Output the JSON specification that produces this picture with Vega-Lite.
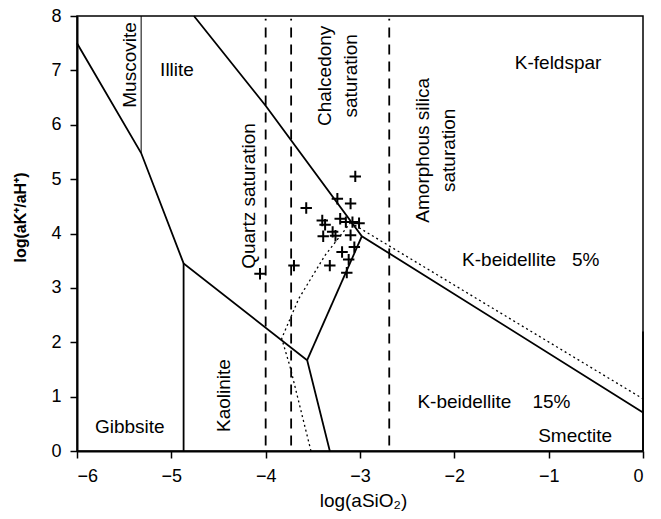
{
  "$schema": "https://vega.github.io/schema/vega-lite/v6.json",
  "width": 566,
  "height": 435,
  "autosize": {"type": "none"},
  "padding": {"left": 77, "top": 16, "right": 18, "bottom": 68},
  "background": "white",
  "config": {
    "view": {"stroke": "black", "strokeWidth": 1.5},
    "font": "Liberation Sans",
    "axis": {
      "grid": false,
      "domainColor": "black",
      "domainWidth": 2,
      "tickColor": "black",
      "tickWidth": 1.5,
      "tickSize": 7,
      "labelFont": "Liberation Sans",
      "labelFontSize": 18,
      "labelColor": "black",
      "labelPadding": 9,
      "titleFont": "Liberation Sans",
      "titleFontSize": 19,
      "titleFontWeight": "normal",
      "titleColor": "black"
    }
  },
  "datasets": {
    "solid": [
      {"seg": "A", "i": 0, "x": -6, "y": 7.5},
      {"seg": "A", "i": 1, "x": -5.32, "y": 5.48},
      {"seg": "A", "i": 2, "x": -4.87, "y": 3.45},
      {"seg": "A", "i": 3, "x": -3.56, "y": 1.67},
      {"seg": "A", "i": 4, "x": -3.32, "y": 0},
      {"seg": "C", "i": 0, "x": -4.87, "y": 0},
      {"seg": "C", "i": 1, "x": -4.87, "y": 3.45},
      {"seg": "D", "i": 0, "x": -3.56, "y": 1.67},
      {"seg": "D", "i": 1, "x": -2.98, "y": 3.95},
      {"seg": "E", "i": 0, "x": -4.76, "y": 8},
      {"seg": "E", "i": 1, "x": -4.0, "y": 6.35},
      {"seg": "E", "i": 2, "x": -2.98, "y": 3.95},
      {"seg": "E", "i": 3, "x": 0, "y": 0.71},
      {"seg": "R", "i": 0, "x": 0, "y": 0},
      {"seg": "R", "i": 1, "x": 0, "y": 2.2}
    ],
    "thin": [
      {"seg": "B", "i": 0, "x": -5.32, "y": 5.48},
      {"seg": "B", "i": 1, "x": -5.32, "y": 8}
    ],
    "dotted": [
      {"seg": "L", "i": 0, "x": -3.52, "y": 0},
      {"seg": "L", "i": 1, "x": -3.74, "y": 1.54},
      {"seg": "L", "i": 2, "x": -3.83, "y": 2.07},
      {"seg": "L", "i": 3, "x": -3.65, "y": 2.8},
      {"seg": "L", "i": 4, "x": -3.37, "y": 3.6},
      {"seg": "L", "i": 5, "x": -3.1, "y": 4.2},
      {"seg": "K", "i": 0, "x": -3.1, "y": 4.2},
      {"seg": "K", "i": 1, "x": 0, "y": 0.96}
    ],
    "saturation": [
      {"phase": "Quartz", "x": -4.0, "ylo": 0.1, "yhi": 7.95},
      {"phase": "Chalcedony", "x": -3.73, "ylo": 0.1, "yhi": 7.95},
      {"phase": "Amorphous silica", "x": -2.69, "ylo": 0.1, "yhi": 7.95}
    ],
    "samples": [
      {"x": -3.05, "y": 5.05},
      {"x": -3.57, "y": 4.47},
      {"x": -3.24, "y": 4.64},
      {"x": -3.10, "y": 4.55},
      {"x": -3.40, "y": 4.24},
      {"x": -3.37, "y": 4.16},
      {"x": -3.21, "y": 4.27},
      {"x": -3.15, "y": 4.21},
      {"x": -3.08, "y": 4.21},
      {"x": -3.01, "y": 4.19},
      {"x": -3.39, "y": 3.95},
      {"x": -3.26, "y": 3.96},
      {"x": -3.29, "y": 4.03},
      {"x": -3.10, "y": 3.97},
      {"x": -3.19, "y": 3.66},
      {"x": -3.06, "y": 3.75},
      {"x": -3.12, "y": 3.52},
      {"x": -3.32, "y": 3.41},
      {"x": -3.14, "y": 3.28},
      {"x": -3.70, "y": 3.41},
      {"x": -4.06, "y": 3.26}
    ],
    "labelsH": [
      {"x": -4.94, "y": 7.0, "text": "Illite"},
      {"x": -0.9, "y": 7.13, "text": "K-feldspar"},
      {"x": -1.19, "y": 3.51, "text": "K-beidellite\u00a0\u00a0 5%"},
      {"x": -1.58, "y": 0.9, "text": "K-beidellite\u00a0\u00a0\u00a0 15%"},
      {"x": -0.72, "y": 0.28, "text": "Smectite"},
      {"x": -5.44, "y": 0.44, "text": "Gibbsite"}
    ],
    "labelsV": [
      {"x": -5.44, "y": 7.1, "text": "Muscovite"},
      {"x": -4.18, "y": 4.69, "text": "Quartz saturation"},
      {"x": -3.37, "y": 6.9, "text": "Chalcedony|saturation"},
      {"x": -2.33, "y": 5.53, "text": "Amorphous silica|saturation"},
      {"x": -4.44, "y": 1.02, "text": "Kaolinite"}
    ]
  },
  "layer": [
    {
      "data": {"name": "saturation"},
      "mark": {"type": "rule", "stroke": "black", "strokeWidth": 1.8, "strokeDash": [10, 7]},
      "encoding": {
        "x": {
          "field": "x", "type": "quantitative",
          "scale": {"domain": [-6, 0], "nice": false, "zero": false},
          "axis": {
            "title": "log(aSiO\u2082)",
            "values": [-6, -5.5, -5, -4.5, -4, -3.5, -3, -2.5, -2, -1.5, -1, -0.5, 0],
            "format": "d",
            "labelExpr": "datum.value % 1 === 0 ? datum.label : ''",
            "titleX": 286, "titleY": 49, "titleBaseline": "middle", "titleAlign": "center"
          }
        },
        "y": {
          "field": "ylo", "type": "quantitative",
          "scale": {"domain": [0, 8], "nice": false, "zero": false},
          "axis": {
            "title": "log(aK\u207a/aH\u207a)",
            "values": [0, 0.5, 1, 1.5, 2, 2.5, 3, 3.5, 4, 4.5, 5, 5.5, 6, 6.5, 7, 7.5, 8],
            "format": "d",
            "labelExpr": "datum.value % 1 === 0 ? datum.label : ''",
            "titleX": -57, "titleY": 201, "titleAngle": 270, "titleBaseline": "middle", "titleAlign": "center",
            "titleFontWeight": "bold", "titleFontSize": 16
          }
        },
        "y2": {"field": "yhi"}
      }
    },
    {
      "data": {"name": "solid"},
      "mark": {"type": "line", "stroke": "black", "strokeWidth": 1.8},
      "encoding": {
        "x": {"field": "x", "type": "quantitative"},
        "y": {"field": "y", "type": "quantitative"},
        "detail": {"field": "seg"}, "order": {"field": "i"}
      }
    },
    {
      "data": {"name": "thin"},
      "mark": {"type": "line", "stroke": "black", "strokeWidth": 1},
      "encoding": {
        "x": {"field": "x", "type": "quantitative"},
        "y": {"field": "y", "type": "quantitative"},
        "detail": {"field": "seg"}, "order": {"field": "i"}
      }
    },
    {
      "data": {"name": "dotted"},
      "mark": {"type": "line", "stroke": "black", "strokeWidth": 1.3, "strokeDash": [2, 3]},
      "encoding": {
        "x": {"field": "x", "type": "quantitative"},
        "y": {"field": "y", "type": "quantitative"},
        "detail": {"field": "seg"}, "order": {"field": "i"}
      }
    },
    {
      "data": {"name": "samples"},
      "mark": {"type": "point", "shape": "M-1,0L1,0M0,-1L0,1", "size": 130, "filled": false, "stroke": "black", "strokeWidth": 2, "opacity": 1},
      "encoding": {
        "x": {"field": "x", "type": "quantitative"},
        "y": {"field": "y", "type": "quantitative"}
      }
    },
    {
      "data": {"name": "labelsH"},
      "mark": {"type": "text", "fontSize": 19, "font": "Liberation Sans", "color": "black", "align": "center", "baseline": "middle"},
      "encoding": {
        "x": {"field": "x", "type": "quantitative"},
        "y": {"field": "y", "type": "quantitative"},
        "text": {"field": "text"}
      }
    },
    {
      "data": {"name": "labelsV"},
      "mark": {"type": "text", "fontSize": 19, "font": "Liberation Sans", "color": "black", "align": "center", "baseline": "middle", "angle": 270, "lineBreak": "|", "lineHeight": 26},
      "encoding": {
        "x": {"field": "x", "type": "quantitative"},
        "y": {"field": "y", "type": "quantitative"},
        "text": {"field": "text"}
      }
    }
  ]
}
